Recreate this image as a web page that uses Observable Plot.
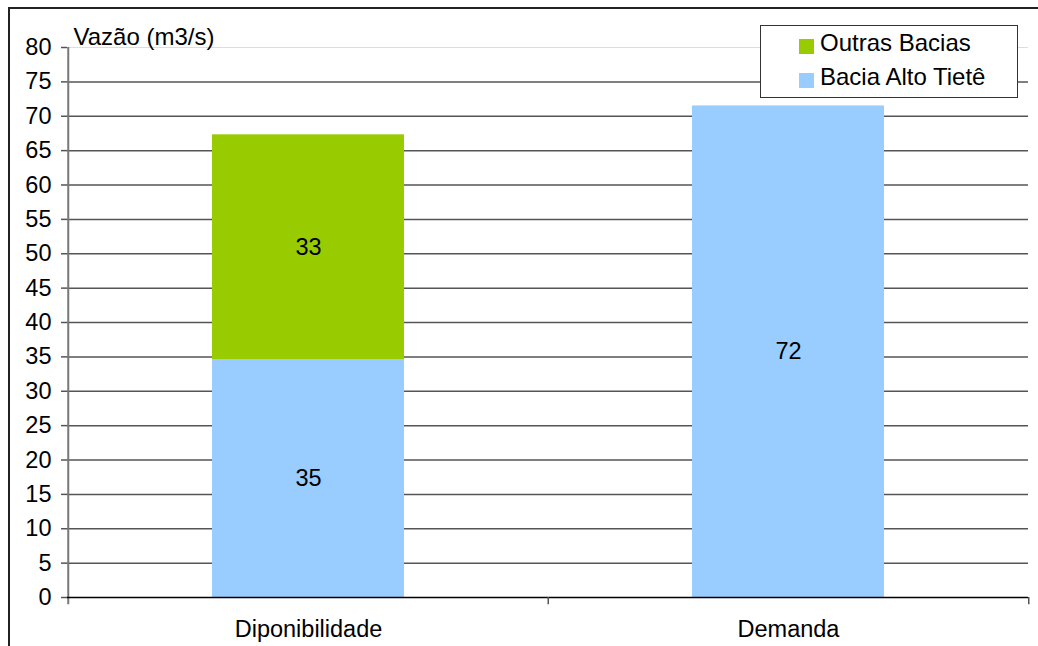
<!DOCTYPE html>
<html>
<head>
<meta charset="utf-8">
<script src="https://cdn.jsdelivr.net/npm/d3@7"></script>
<script src="https://cdn.jsdelivr.net/npm/@observablehq/plot@0.6"></script>
<style>
  html, body { margin: 0; padding: 0; background: #fff; overflow: hidden; }
  #wrap { position: relative; width: 1038px; height: 646px; font-family: "Liberation Sans", Arial, sans-serif; }
  #frame { position: absolute; left: 8px; top: 7px; width: 1100px; height: 700px; border-top: 2px solid #222; border-left: 2px solid #222; }
  #chart { position: absolute; left: 0; top: 0; }
  #legend { position: absolute; left: 760px; top: 25px; width: 256px; height: 71px; border: 1.5px solid #333; background: #fff; font-size: 24px; color: #000; }
  .item { position: absolute; left: 38px; display: flex; align-items: center; white-space: nowrap; }
  .sw { width: 15px; height: 15px; margin-right: 6px; margin-top: 6px; }
</style>
</head>
<body>
<div id="wrap">
  <div id="frame"></div>
  <div id="chart"></div>
  <div id="legend"></div>
</div>
<script>
const categories = ["Diponibilidade", "Demanda"];
const seriesNames = ["Bacia Alto Tietê", "Outras Bacias"];
const baciaAltoTiete = [34.6, 71.5];
const outrasBacias = [32.7, 0];
const valueLabels = { "Bacia Alto Tietê": [35, 72], "Outras Bacias": [33, null] };
const colors = { "Bacia Alto Tietê": "#99CCFF", "Outras Bacias": "#99CC00" };
const yTicks = [0, 5, 10, 15, 20, 25, 30, 35, 40, 45, 50, 55, 60, 65, 70, 75, 80];
const yTitle = "Vazão (m3/s)";

const rows = [];
categories.forEach((c, i) => {
  rows.push({ cat: c, series: "Bacia Alto Tietê", value: baciaAltoTiete[i], label: valueLabels["Bacia Alto Tietê"][i] });
  if (outrasBacias[i] > 0) rows.push({ cat: c, series: "Outras Bacias", value: outrasBacias[i], label: valueLabels["Outras Bacias"][i] });
});

const fontSize = 23.5;
const step = (1028 - 67) / categories.length;

const chart = Plot.plot({
  width: 1038,
  height: 646,
  marginLeft: 67,
  marginRight: 10,
  marginTop: 47,
  marginBottom: 49,
  style: { fontFamily: "'Liberation Sans', Arial, sans-serif", fontSize: fontSize + "px", background: "transparent", overflow: "visible" },
  x: { domain: categories, paddingInner: 0.6, paddingOuter: 0.3, axis: null },
  y: { domain: [0, 80], axis: null },
  color: { domain: seriesNames, range: seriesNames.map(s => colors[s]) },
  marks: [
    Plot.ruleY(yTicks.filter(t => t > 0 && t < 80), { stroke: "#555", strokeWidth: 1.5 }),
    Plot.ruleY([80], { stroke: "#ddd", strokeWidth: 1 }),
    Plot.barY(rows, Plot.stackY({ x: "cat", y: "value", z: "series", fill: "series", order: seriesNames })),
    Plot.text(rows, Plot.stackY({ x: "cat", y: "value", z: "series", text: "label", order: seriesNames, fontSize: fontSize, fill: "#000" })),
    Plot.axisY({ ticks: yTicks, label: null, tickSize: 6, tickPadding: 10, fontSize: fontSize, stroke: "#555", strokeWidth: 1.5, fill: "#000" }),
    Plot.ruleX(categories.slice(0, 1), { x: d => d, dx: -step / 2, y1: 80, y2: -1.05, stroke: "#777", strokeWidth: 2 }),
    Plot.ruleY([0], { stroke: "#000", strokeWidth: 1.5 }),
    Plot.ruleX(categories.slice(1), { x: d => d, dx: -step / 2, y1: 0, y2: -1.05, stroke: "#555", strokeWidth: 1.5 }),
    Plot.ruleX(categories.slice(-1), { x: d => d, dx: step / 2, y1: 0, y2: -1.05, stroke: "#555", strokeWidth: 1.5 }),
    Plot.axisX({ label: null, tickSize: 0, tickPadding: 23, fontSize: fontSize, fill: "#000" }),
    Plot.text([yTitle], { frameAnchor: "top-left", text: d => d, dx: 6, dy: -3, textAnchor: "start", lineAnchor: "bottom", fontSize: 24, fill: "#000" })
  ]
});
document.getElementById("chart").appendChild(chart);

const legend = document.getElementById("legend");
[["Outras Bacias", 3], ["Bacia Alto Tietê", 37]].forEach(([s, top]) => {
  const it = document.createElement("div");
  it.className = "item";
  it.style.top = top + "px";
  const sw = document.createElement("div");
  sw.className = "sw";
  sw.style.background = colors[s];
  const t = document.createElement("span");
  t.textContent = s;
  it.appendChild(sw);
  it.appendChild(t);
  legend.appendChild(it);
});
</script>
</body>
</html>
